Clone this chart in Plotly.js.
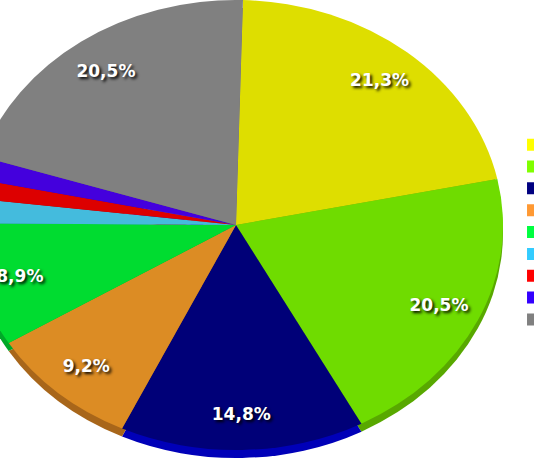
<!DOCTYPE html>
<html>
<head>
<meta charset="utf-8">
<script src="https://cdn.plot.ly/plotly-3.0.1.min.js"></script>
<style>
html,body{margin:0;padding:0;overflow:hidden;width:534px;height:462px;background:#ffffff}
#chart{position:absolute;left:-64px;top:-75px;width:600px;height:600px}
</style>
</head>
<body>
<div id="chart"></div>
<script>
// ---- data ----
const categories = ['Catégorie 1','Catégorie 2','Catégorie 3','Catégorie 4','Catégorie 5','Catégorie 6','Catégorie 7','Catégorie 8','Catégorie 9'];
const shares = [21.3, 20.5, 14.8, 9.2, 8.9, 1.8, 1.4, 1.6, 20.5];

// ---- styles ----
const legendColors = ['#ffff00','#80ff00','#000080','#ff9933','#00ff40','#33ccff','#ff0000','#3300ff','#808080'];
const faceColors   = ['#dede00','#6fdc00','#000078','#dc8c24','#00dc30','#44bbdd','#dd0000','#4400dd','#808080'];
const edgeColors   = ['#a3a300','#58a800','#0000b8','#a8661a','#00a828','#3090b0','#a00000','#3300aa','#666666'];

const total = shares.reduce((a,b)=>a+b,0);
const textTemplates = shares.map(v => v/total >= 0.05 ? '%{percent:.1%}' : '');

const ROT = 1.5;          // start angle of first slice (deg, clockwise from 12 o'clock)
const TILT = 225/267;     // vertical squash of the pie (3D look)
const EDGE = 8;           // thickness of the 3D edge in px
const LABEL_R = 0.84;     // label distance as a fraction of the radius
const DOM = [0.055, 0.945];

const common = {
  type:'pie', labels:categories, values:shares, sort:false, direction:'clockwise',
  rotation:ROT, hoverinfo:'none', marker:{line:{width:0}}
};

const data = [
  Object.assign({}, common, {   // legend carrier (hidden behind the pie)
    domain:{x:[0.4999,0.5001], y:[0.4999,0.5001]},
    marker:{colors:legendColors, line:{width:0}}, textinfo:'none', showlegend:true
  }),
  Object.assign({}, common, {   // 3D edge
    domain:{x:DOM, y:DOM},
    marker:{colors:edgeColors, line:{width:0}}, textinfo:'none', showlegend:false
  }),
  Object.assign({}, common, {   // top face
    domain:{x:DOM, y:DOM},
    marker:{colors:faceColors, line:{width:0}}, showlegend:false,
    texttemplate:textTemplates, textposition:'inside', insidetextorientation:'horizontal',
    textfont:{family:'DejaVu Sans', size:17, color:'#ffffff', weight:'bold',
              shadow:'2px 2px 3px rgba(0,0,0,0.95)'}
  })
];

const layout = {
  width:600, height:600,
  margin:{l:0, r:0, t:0, b:0, autoexpand:false},
  paper_bgcolor:'#ffffff',
  separators:', ',
  showlegend:true,
  legend:{x:0.9617, xanchor:'left', y:0.488, yanchor:'middle',
          font:{family:'DejaVu Sans', size:14.5, color:'#000000'},
          bgcolor:'rgba(0,0,0,0)', traceorder:'normal'}
};

const gd = document.getElementById('chart');
Plotly.newPlot(gd, data, layout, {staticPlot:true, displayModeBar:false}).then(() => {
  const groups = gd.querySelectorAll('.pielayer g.trace');
  const cd = gd.calcdata;
  [1,2].forEach(i => {
    const g = groups[i];
    if(!g) return;
    const cd0 = cd[i][0];
    const cy = cd0.cy, cx = cd0.cx, r = cd0.r;
    const shift = (i === 1) ? EDGE : 0;
    g.setAttribute('transform', `translate(0,${cy + shift}) scale(1,${TILT}) translate(0,${-cy})`);
    if(i === 2) {
      g.querySelectorAll('g.slice').forEach(sl => {
        const st = sl.querySelector('g.slicetext');
        if(!st) return;
        const txt = st.querySelector('text');
        if(!txt || !txt.textContent) return;
        const bb = st.getBBox();
        const bx = bb.x + bb.width/2, by = bb.y + bb.height/2;
        const pt = sl.__data__;
        let ang;
        if(pt && typeof pt.midangle === 'number') ang = pt.midangle;
        else ang = Math.atan2(bx - cx, -(by - cy));
        const tx = cx + LABEL_R * r * Math.sin(ang);
        const ty = cy - LABEL_R * r * Math.cos(ang);
        st.setAttribute('transform', `translate(${tx},${ty}) scale(1,${1/TILT}) translate(${-bx},${-by})`);
      });
    }
  });
});
</script>
</body>
</html>
